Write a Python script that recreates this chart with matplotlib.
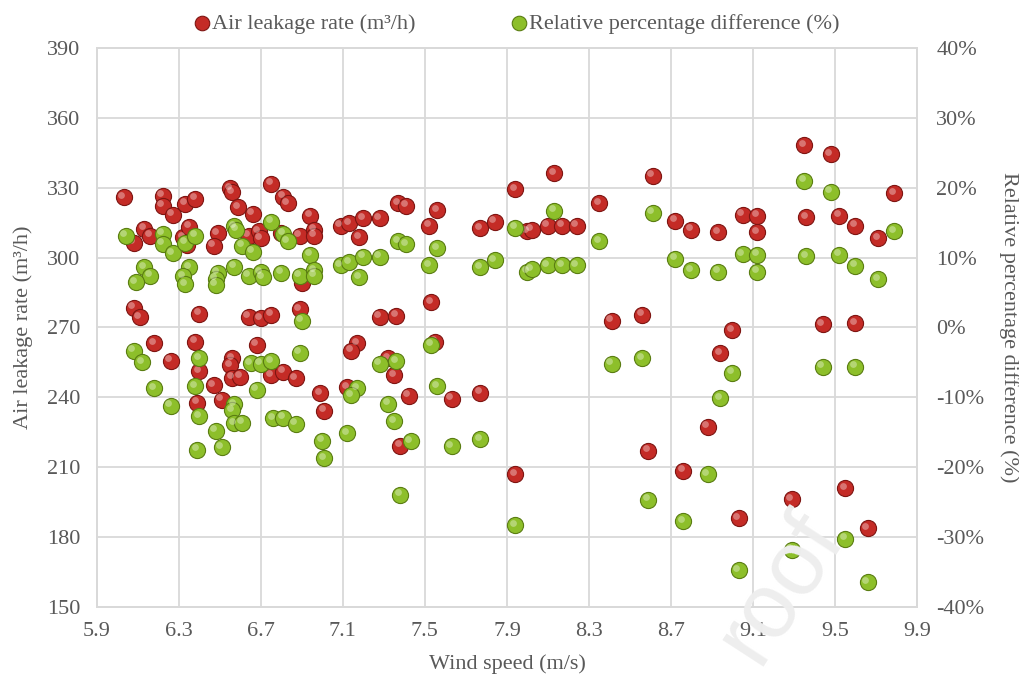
import matplotlib
matplotlib.use("Agg")
import matplotlib.pyplot as plt
from matplotlib.transforms import offset_copy

# air leakage rate (m3/h) vs wind speed (m/s)
leak_speed = [6.03, 6.22, 6.22, 6.27, 6.33, 6.38, 6.55, 6.56, 6.59, 6.66, 6.75,
              6.13, 6.16, 6.08, 6.32, 6.35, 6.34, 6.49, 6.47, 6.64, 6.69, 6.70,
              6.08, 6.11, 6.40, 6.64, 6.70, 6.75, 6.18, 6.26, 6.38, 6.40, 6.47,
              6.56, 6.55, 6.56, 6.60, 6.68, 6.39, 6.51, 6.75, 6.81, 6.83, 6.94,
              6.80, 6.89, 6.96, 6.96, 7.09, 7.13, 7.20, 7.28, 7.18, 7.37, 7.41,
              7.52, 7.56, 6.90, 6.89, 7.53, 7.28, 7.36, 7.17, 7.14, 7.32, 7.35,
              6.81, 6.87, 6.99, 7.12, 7.42, 7.01, 7.38, 7.55, 8.13, 7.94, 7.77,
              7.84, 8.00, 8.02, 8.10, 8.17, 8.24, 8.35, 8.41, 7.63, 7.77, 7.94,
              8.61, 8.72, 8.80, 8.93, 9.05, 9.12, 9.12, 8.56, 9.00, 8.94, 8.88,
              8.59, 8.76, 9.03, 9.35, 9.48, 9.79, 9.36, 9.52, 9.60, 9.71, 9.44,
              9.60, 9.29, 9.55, 9.66]
leak_rate = [325.9, 326.5, 322.2, 318.3, 323.0, 325.3, 329.8, 328.0, 321.6, 318.7, 331.6,
             312.4, 309.3, 306.4, 308.7, 313.3, 305.4, 310.4, 305.0, 309.3, 311.4, 308.3,
             278.5, 274.5, 275.8, 274.6, 273.9, 275.4, 263.2, 255.7, 263.9, 251.3, 245.3,
             256.8, 253.9, 248.4, 248.9, 262.5, 237.7, 238.9, 249.6, 326.2, 323.3, 318.0,
             310.7, 309.3, 311.9, 309.3, 313.6, 314.7, 316.9, 316.9, 308.7, 323.3, 322.2,
             313.7, 320.4, 289.2, 277.8, 280.8, 274.6, 275.1, 263.2, 260.0, 256.8, 249.6,
             251.0, 248.2, 241.7, 244.3, 240.7, 234.3, 219.2, 263.9, 336.2, 329.3, 312.6,
             315.4, 311.4, 311.9, 313.6, 313.6, 313.6, 323.3, 272.9, 239.4, 242.0, 207.1,
             335.2, 315.8, 311.9, 310.9, 318.3, 317.9, 310.9, 275.4, 268.9, 258.9, 227.4,
             217.1, 208.5, 188.1, 348.3, 344.4, 327.6, 317.3, 317.9, 313.6, 308.3, 271.5,
             271.8, 196.4, 201.0, 183.8]

# relative percentage difference (%) vs wind speed (m/s)
diff_speed = [6.04, 6.22, 6.22, 6.27, 6.33, 6.38, 6.57, 6.58, 6.61, 6.66, 6.75,
              6.13, 6.16, 6.09, 6.35, 6.32, 6.33, 6.49, 6.48, 6.48, 6.57, 6.64,
              6.70, 6.71, 6.08, 6.12, 6.18, 6.26, 6.40, 6.38, 6.40, 6.57, 6.56,
              6.57, 6.61, 6.48, 6.39, 6.51, 6.65, 6.70, 6.75, 6.68, 6.76, 6.81,
              6.83, 6.94, 6.80, 6.89, 6.96, 6.96, 7.09, 7.13, 7.20, 7.28, 7.18,
              7.37, 7.41, 7.52, 7.56, 6.90, 6.89, 7.17, 7.14, 7.28, 7.36, 7.32,
              7.35, 6.81, 6.87, 7.00, 7.12, 7.43, 7.01, 7.53, 7.56, 7.77, 7.84,
              7.94, 8.13, 8.00, 8.02, 8.10, 8.17, 8.24, 8.35, 8.41, 7.63, 7.77,
              7.38, 7.94, 8.61, 8.72, 8.80, 8.93, 9.05, 9.12, 9.12, 8.56, 9.00,
              8.94, 8.88, 8.59, 8.76, 9.03, 9.35, 9.48, 9.79, 9.36, 9.52, 9.60,
              9.71, 9.44, 9.60, 9.29, 9.55, 9.66]
diff_pct = [13.1, 13.4, 12.0, 10.6, 12.1, 13.1, 14.5, 14.0, 11.7, 10.8, 15.1,
            8.6, 7.4, 6.5, 8.6, 7.3, 6.2, 7.8, 7.0, 6.1, 8.7, 7.4,
            7.9, 7.2, -3.3, -5.0, -8.7, -11.2, -4.4, -8.4, -12.7, -11.0, -11.8,
            -13.7, -13.6, -14.8, -17.5, -17.1, -5.1, -5.2, -4.8, -8.9, -13.0, 13.4,
            12.3, 10.4, 7.8, 7.4, 8.2, 7.4, 8.9, 9.3, 10.1, 10.1, 7.2,
            12.3, 11.9, 8.9, 11.3, 1.0, -3.6, -8.7, -9.7, -5.2, -4.8, -10.9,
            -13.4, -12.9, -13.8, -16.2, -15.1, -16.3, -18.7, -2.5, -8.4, 8.6, 9.6,
            14.3, 16.7, 8.0, 8.3, 8.9, 8.9, 8.9, 12.3, -5.2, -17.0, -16.0,
            -23.9, -28.3, 16.4, 9.8, 8.2, 8.0, 10.5, 10.4, 8.0, -4.4, -6.5,
            -10.1, -21.0, -24.6, -27.7, -34.7, 21.0, 19.4, 13.8, 10.2, 10.4, 8.8,
            6.9, -5.6, -5.6, -31.8, -30.2, -36.4]

x_ticks = [5.9, 6.3, 6.7, 7.1, 7.5, 7.9, 8.3, 8.7, 9.1, 9.5, 9.9]
left_ticks = [150, 180, 210, 240, 270, 300, 330, 360, 390]
right_ticks = [-40, -30, -20, -10, 0, 10, 20, 30, 40]

plt.rcParams['font.family'] = ['Liberation Serif', 'DejaVu Serif']
txt = '#595959'
grid_c = '#d9d9d9'
red, red_edge = '#c42b26', '#7e1512'
green, green_edge = '#8dbf2a', '#5a7d12'
fs = 16

fig = plt.figure(figsize=(10.2, 6.83), dpi=100)
# faint watermark from the source page
fig.text(0.765, 0.14, 'roof', rotation=57, fontsize=66, color='#eeeeee',
         family='Liberation Sans', ha='center', va='center', zorder=0)

ax = fig.add_axes([0.095, 0.111, 0.804, 0.819])
ax.patch.set_alpha(0)
ax2 = ax.twinx()


def balls(a, xs, ys, face, edge):
    h = a.scatter(xs, ys, s=135, color=face, edgecolors=edge, linewidths=0.8,
                  zorder=3, clip_on=False)
    shine = offset_copy(a.transData, fig=fig, x=-2.5, y=2.5, units='dots')
    a.scatter(xs, ys, s=24, color='white', alpha=0.35, linewidths=0,
              transform=shine, zorder=4, clip_on=False)
    return h


h1 = balls(ax, leak_speed, leak_rate, red, red_edge)
h2 = balls(ax2, diff_speed, diff_pct, green, green_edge)

ax.set_xlim(5.9, 9.9)
ax.set_ylim(150, 390)
ax2.set_ylim(-40, 40)
ax.set_xticks(x_ticks)
ax.set_xticklabels([f'{v:.1f}' for v in x_ticks])
ax.set_yticks(left_ticks)
ax2.set_yticks(right_ticks)
ax2.set_yticklabels([f'{v}%' for v in right_ticks])

ax.grid(True, color=grid_c, linewidth=1.3, zorder=0)
ax.set_axisbelow(True)
for a in (ax, ax2):
    for sp in a.spines.values():
        sp.set_color(grid_c)
        sp.set_linewidth(1.3)
    a.tick_params(length=0, labelsize=fs, labelcolor=txt)
ax.tick_params(axis='y', pad=12)
ax.tick_params(axis='x', pad=11)
ax2.tick_params(axis='y', pad=14)

ax.set_xlabel('Wind speed (m/s)', fontsize=fs, color=txt, labelpad=9)
ax.set_ylabel('Air leakage rate (m\u00b3/h)', fontsize=fs, color=txt, labelpad=10)
ax2.set_ylabel('Relative percentage difference (%)', fontsize=fs, color=txt,
               rotation=270, labelpad=25)

fig.legend([h1, h2], ['Air leakage rate (m\u00b3/h)', 'Relative percentage difference (%)'],
           loc='upper center', bbox_to_anchor=(0.507, 1.01), ncol=2, frameon=False,
           fontsize=fs, labelcolor=txt, handlelength=0.7, handletextpad=0.1,
           columnspacing=4.3, markerscale=0.9)

fig.savefig('out.png', dpi=100)
